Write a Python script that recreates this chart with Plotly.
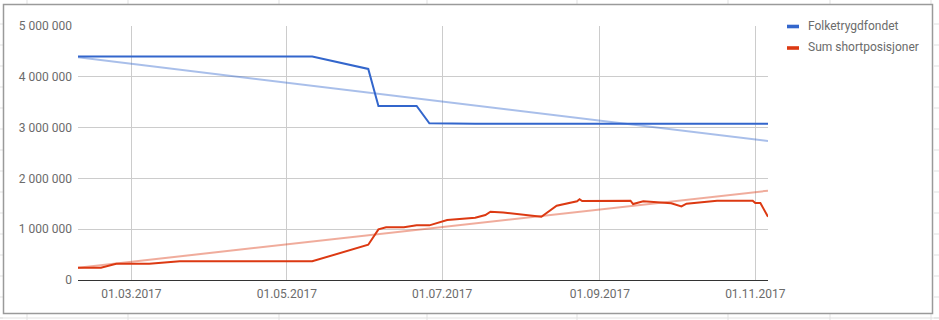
import plotly.graph_objects as go

# ---------------- data ----------------
series_names = ["Folketrygdfondet", "Sum shortposisjoner"]

blue_dates = ["2017-02-08", "2017-05-11", "2017-06-02", "2017-06-06", "2017-06-21",
              "2017-06-26", "2017-07-14", "2017-11-06"]
blue_values = [4400000, 4400000, 4155000, 3425000, 3425000,
               3085000, 3075000, 3075000]

red_dates = ["2017-02-08", "2017-02-17", "2017-02-23", "2017-03-08", "2017-03-20",
             "2017-05-11", "2017-06-02", "2017-06-06", "2017-06-09", "2017-06-16",
             "2017-06-21", "2017-06-26", "2017-07-03", "2017-07-14", "2017-07-18",
             "2017-07-20", "2017-07-25", "2017-08-09", "2017-08-15", "2017-08-23",
             "2017-08-24", "2017-08-25", "2017-09-13", "2017-09-14", "2017-09-18",
             "2017-09-29", "2017-10-03", "2017-10-05", "2017-10-17", "2017-10-31",
             "2017-11-01", "2017-11-03", "2017-11-06"]
red_values = [242000, 242000, 320000, 320000, 368000,
              368000, 695000, 997000, 1040000, 1040000,
              1076000, 1076000, 1180000, 1227000, 1280000,
              1345000, 1330000, 1246000, 1463000, 1549000,
              1589000, 1555000, 1561000, 1496000, 1549000,
              1510000, 1450000, 1502000, 1561000, 1561000,
              1516000, 1516000, 1246000]

trend_dates = ["2017-02-08", "2017-11-06"]
blue_trend = [4384000, 2736000]
red_trend = [242000, 1758000]

x_tick_vals = ["2017-03-01", "2017-05-01", "2017-07-01", "2017-09-01", "2017-11-01"]
x_tick_text = ["01.03.2017", "01.05.2017", "01.07.2017", "01.09.2017", "01.11.2017"]
y_tick_vals = [0, 1000000, 2000000, 3000000, 4000000, 5000000]

# ---------------- style ----------------
BLUE = "#3366cc"
RED = "#dc3912"
BLUE_T = "rgba(51,102,204,0.42)"
RED_T = "rgba(220,57,18,0.42)"
FONT = "Roboto"
TXT = "#6b6b6b"

W, H = 939, 320
L, R, T, B = 78, 171, 26, 40
PW, PH = W - L - R, H - T - B


def px(x):
    return (x - L) / PW


def py(y):
    return (H - B - y) / PH


fig = go.Figure()
fig.add_trace(go.Scatter(x=trend_dates, y=blue_trend, mode="lines",
                         line=dict(color=BLUE_T, width=2), hoverinfo="skip", showlegend=False))
fig.add_trace(go.Scatter(x=trend_dates, y=red_trend, mode="lines",
                         line=dict(color=RED_T, width=2), hoverinfo="skip", showlegend=False))
fig.add_trace(go.Scatter(x=blue_dates, y=blue_values, mode="lines", name=series_names[0],
                         line=dict(color=BLUE, width=2)))
fig.add_trace(go.Scatter(x=red_dates, y=red_values, mode="lines", name=series_names[1],
                         line=dict(color=RED, width=2)))

shapes = []
SHEET = "#e1e1e1"
# spreadsheet cell lines outside the chart box
for cx in [27, 128, 279, 427, 577, 728, 830, 931]:
    shapes.append(dict(type="line", xref="paper", yref="paper", layer="below",
                       x0=px(cx), x1=px(cx), y0=py(0), y1=py(4),
                       line=dict(color=SHEET, width=1)))
    shapes.append(dict(type="line", xref="paper", yref="paper", layer="below",
                       x0=px(cx), x1=px(cx), y0=py(314), y1=py(320),
                       line=dict(color=SHEET, width=1)))
for ry in range(24, 320, 21):
    shapes.append(dict(type="line", xref="paper", yref="paper", layer="below",
                       x0=px(0), x1=px(3), y0=py(ry), y1=py(ry),
                       line=dict(color=SHEET, width=1)))
    shapes.append(dict(type="line", xref="paper", yref="paper", layer="below",
                       x0=px(934), x1=px(939), y0=py(ry), y1=py(ry),
                       line=dict(color=SHEET, width=1)))
shapes.append(dict(type="line", xref="paper", yref="paper", layer="below",
                   x0=px(0), x1=px(939), y0=py(318), y1=py(318),
                   line=dict(color=SHEET, width=1)))
# chart box border
shapes.append(dict(type="rect", xref="paper", yref="paper", layer="below",
                   x0=px(3.5), x1=px(932.5), y0=py(4.5), y1=py(313.5),
                   line=dict(color="#9a9a9a", width=1.5), fillcolor="rgba(0,0,0,0)"))
# legend swatches
annotations = []
for i, (name, col) in enumerate(zip(series_names, [BLUE, RED])):
    yc = 26.5 + i * 21.5
    shapes.append(dict(type="rect", xref="paper", yref="paper", layer="above",
                       x0=px(787), x1=px(799), y0=py(yc - 1.8), y1=py(yc + 1.8),
                       line=dict(width=0), fillcolor=col))
    annotations.append(dict(xref="paper", yref="paper", x=px(805.5), y=py(yc - 0.5),
                            xanchor="left", yanchor="middle", showarrow=False,
                            text=name, font=dict(family=FONT, size=12, color=TXT)))

fig.update_layout(
    width=W, height=H,
    margin=dict(l=L, r=R, t=T, b=B, autoexpand=False),
    paper_bgcolor="white", plot_bgcolor="rgba(0,0,0,0)",
    separators=", ",
    showlegend=False,
    font=dict(family=FONT, size=12, color=TXT),
    shapes=shapes, annotations=annotations,
    xaxis=dict(type="date", range=["2017-02-08", "2017-11-06"],
               tickvals=x_tick_vals, ticktext=x_tick_text,
               showgrid=True, gridcolor="#cccccc", gridwidth=1,
               showline=True, linecolor="#333333", linewidth=1,
               ticks="", ticklabelstandoff=3, zeroline=False, automargin=False,
               tickfont=dict(family=FONT, size=12, color=TXT)),
    yaxis=dict(range=[0, 5000000], tickvals=y_tick_vals, tickformat=",d",
               showgrid=True, gridcolor="#cccccc", gridwidth=1,
               zeroline=False, showline=False, ticks="", ticklabelstandoff=5,
               automargin=False,
               tickfont=dict(family=FONT, size=12, color=TXT)),
)

fig.write_html("out.html")
